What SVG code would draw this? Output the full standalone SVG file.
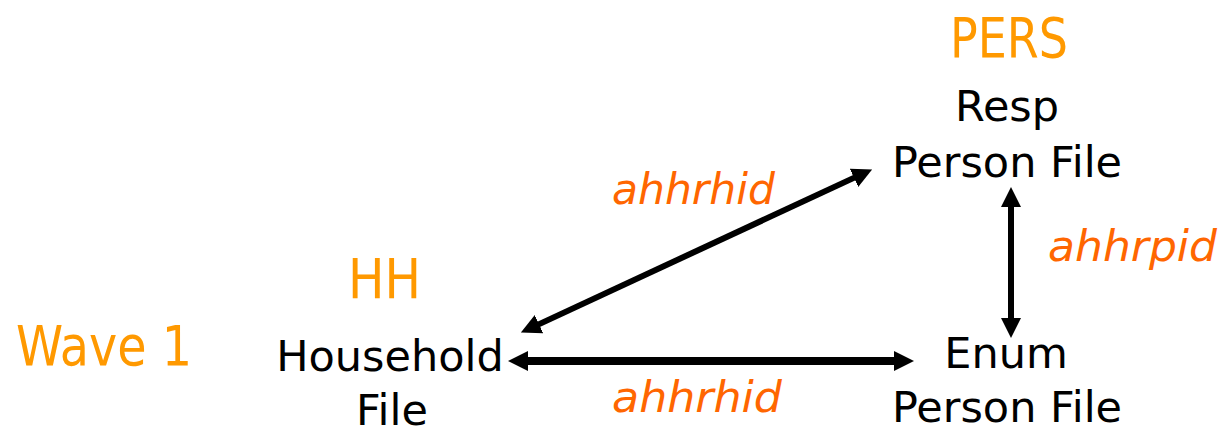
<svg xmlns="http://www.w3.org/2000/svg" width="1226" height="427" viewBox="0 0 1226 427">
<style>
.lbl{font-family:"DejaVu Sans","Liberation Sans",sans-serif;font-size:43px;fill:#000;text-anchor:middle}
.hdr{font-family:"DejaVu Sans Condensed","DejaVu Sans",sans-serif;font-stretch:condensed;font-size:56px;fill:#FF9900}
.key{font-family:"DejaVu Sans","Liberation Sans",sans-serif;font-style:italic;font-size:42px;fill:#FF6600}
.conn{stroke:#000;fill:none}
</style>
<defs>
<marker id="ah" viewBox="0 0 20 20" refX="1" refY="10" markerWidth="20" markerHeight="20" markerUnits="userSpaceOnUse" orient="auto-start-reverse">
<path d="M0,0 L20,10 L0,20 z" fill="#000"/>
</marker>
</defs>
<text class="hdr" x="16" y="365" textLength="176" lengthAdjust="spacingAndGlyphs">Wave 1</text>
<g id="hh">
<text class="hdr" x="348" y="298" textLength="73" lengthAdjust="spacingAndGlyphs">HH</text>
<text class="lbl" x="390" y="371">Household</text>
<text class="lbl" x="392" y="425">File</text>
</g>
<g id="pers">
<text class="hdr" x="950" y="57" textLength="118" lengthAdjust="spacingAndGlyphs">PERS</text>
<text class="lbl" x="1007" y="121">Resp</text>
<text class="lbl" x="1007" y="177">Person File</text>
</g>
<g id="enum">
<text class="lbl" x="1006" y="368">Enum</text>
<text class="lbl" x="1007" y="422">Person File</text>
</g>
<g id="connectors">
<line class="conn" x1="538.1" y1="324.6" x2="854.9" y2="177.4" stroke-width="6" marker-start="url(#ah)" marker-end="url(#ah)"/>
<line class="conn" x1="1011" y1="206" x2="1011" y2="319" stroke-width="6" marker-start="url(#ah)" marker-end="url(#ah)"/>
<line class="conn" x1="527" y1="361" x2="895" y2="361" stroke-width="8" marker-start="url(#ah)" marker-end="url(#ah)"/>
<text class="key" x="612" y="204" textLength="163" lengthAdjust="spacingAndGlyphs">ahhrhid</text>
<text class="key" x="1048" y="261" textLength="169" lengthAdjust="spacingAndGlyphs">ahhrpid</text>
<text class="key" x="612" y="412" textLength="170" lengthAdjust="spacingAndGlyphs">ahhrhid</text>
</g>
</svg>
